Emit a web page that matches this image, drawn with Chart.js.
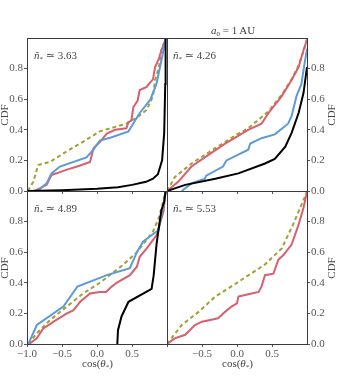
<!DOCTYPE html>
<html>
<head>
<meta charset="utf-8">
<script src="https://cdn.jsdelivr.net/npm/chart.js@4/dist/chart.umd.min.js"></script>
<style>
  body { margin: 0; background: #fff; }
  #wrap { position: relative; width: 343px; height: 383px; overflow: hidden; font-family: "Liberation Serif", "DejaVu Serif", serif; color: #444; }
  #wrap canvas { position: absolute; left: 0; top: 0; }
  .t { position: absolute; font-size: 11px; white-space: nowrap; line-height: 1; }
  .t sub { font-size: 7px; vertical-align: -2px; }
  .rot { transform: translate(-50%, -50%) rotate(-90deg); }
</style>
</head>
<body>
<div id="wrap">
  <canvas id="tl" width="343" height="383"></canvas>
  <canvas id="tr" width="343" height="383"></canvas>
  <canvas id="bl" width="343" height="383"></canvas>
  <canvas id="br" width="343" height="383"></canvas>

  <div class="t" style="left:211px;top:25px;"><i>a</i><sub>0</sub> = 1 AU</div>
  <div class="t" style="left:34px;top:50px;"><i>ñ</i><sub>*</sub> ≃ 3.63</div>
  <div class="t" style="left:173px;top:50px;"><i>ñ</i><sub>*</sub> ≃ 4.26</div>
  <div class="t" style="left:34px;top:203px;"><i>ñ</i><sub>*</sub> ≃ 4.89</div>
  <div class="t" style="left:173px;top:203px;"><i>ñ</i><sub>*</sub> ≃ 5.53</div>
  <div class="t rot" style="left:4px;top:115px;">CDF</div>
  <div class="t rot" style="left:4px;top:268px;">CDF</div>
  <div class="t rot" style="left:331px;top:115px;">CDF</div>
  <div class="t rot" style="left:331px;top:268px;">CDF</div>
  <div class="t" style="left:82px;top:358px;">cos(<i>θ</i><sub>*</sub>)</div>
  <div class="t" style="left:222px;top:358px;">cos(<i>θ</i><sub>*</sub>)</div>
</div>
<script>
// cos(theta) vs CDF
const tlRed = [[-0.89,0],[-0.72,0.04],[-0.65,0.105],[-0.55,0.12],[-0.43,0.14],[-0.25,0.165],[-0.1,0.19],[-0.05,0.28],[0.04,0.32],[0.14,0.375],[0.26,0.4],[0.42,0.41],[0.45,0.45],[0.49,0.46],[0.52,0.55],[0.58,0.59],[0.61,0.66],[0.71,0.68],[0.76,0.71],[0.8,0.73],[0.83,0.81],[0.88,0.86],[0.92,0.92],[0.96,0.965],[0.98,1.0]];
const tlBlue = [[-0.85,0],[-0.72,0.05],[-0.65,0.115],[-0.53,0.16],[-0.15,0.22],[-0.05,0.27],[0.04,0.33],[0.2,0.35],[0.45,0.39],[0.61,0.51],[0.76,0.595],[0.85,0.7],[0.9,0.81],[0.95,0.92],[0.98,1.0]];
const tlOlive = [[-0.99,0],[-0.91,0.06],[-0.84,0.17],[-0.67,0.19],[-0.43,0.26],[-0.24,0.31],[0.04,0.39],[0.42,0.44],[0.6,0.49],[0.71,0.53],[0.8,0.62],[0.83,0.725],[0.88,0.8],[0.92,0.92],[0.98,1.0]];
const tlBlack = [[-1,0],[-0.5,0.005],[0,0.015],[0.3,0.025],[0.5,0.04],[0.7,0.06],[0.8,0.08],[0.87,0.11],[0.93,0.2],[0.96,0.38],[0.975,0.7],[0.98,1.0]];

const trRed = [[-1,0],[-0.84,0.06],[-0.65,0.16],[-0.46,0.22],[-0.17,0.31],[0.16,0.4],[0.35,0.44],[0.45,0.51],[0.64,0.62],[0.78,0.725],[0.88,0.81],[0.95,0.92],[1.0,0.99]];
const trBlue = [[-0.79,0],[-0.65,0.05],[-0.46,0.08],[-0.44,0.1],[-0.2,0.16],[-0.15,0.2],[0.16,0.27],[0.19,0.31],[0.35,0.345],[0.54,0.37],[0.73,0.44],[0.78,0.49],[0.85,0.62],[0.92,0.7],[0.95,0.79],[1.0,0.93]];
const trOlive = [[-1,0],[-0.89,0.09],[-0.65,0.18],[-0.31,0.28],[0.0,0.37],[0.16,0.41],[0.45,0.52],[0.64,0.63],[0.78,0.73],[0.88,0.82],[0.97,0.94],[1.0,0.99]];
const trBlack = [[-1,0],[-0.74,0.04],[-0.31,0.08],[0.02,0.115],[0.4,0.18],[0.54,0.21],[0.69,0.29],[0.78,0.38],[0.88,0.51],[0.95,0.64],[1.0,0.81]];

const blRed = [[-0.97,0],[-0.86,0.037],[-0.77,0.1],[-0.62,0.146],[-0.43,0.2],[-0.34,0.22],[-0.24,0.276],[-0.1,0.33],[0.04,0.34],[0.13,0.34],[0.21,0.375],[0.28,0.4],[0.47,0.45],[0.57,0.505],[0.61,0.57],[0.71,0.625],[0.85,0.71],[0.95,0.865],[0.98,1.0]];
const blBlue = [[-0.98,0],[-0.86,0.124],[-0.48,0.245],[-0.28,0.375],[0.14,0.45],[0.47,0.495],[0.57,0.6],[0.66,0.67],[0.88,0.745],[0.95,0.91],[0.98,1.0]];
const blOlive = [[-0.98,0],[-0.86,0.07],[-0.67,0.157],[-0.43,0.245],[-0.2,0.33],[0.04,0.4],[0.38,0.52],[0.57,0.6],[0.8,0.735],[0.88,0.82],[0.95,0.94],[0.98,1.0]];
const blBlack = [[0.29,0],[0.3,0.09],[0.35,0.18],[0.45,0.276],[0.78,0.36],[0.81,0.45],[0.85,0.65],[0.88,0.75],[0.92,0.875],[0.96,0.93],[0.98,1.0]];

const brRed = [[-1,0],[-0.89,0.037],[-0.74,0.06],[-0.6,0.124],[-0.5,0.146],[-0.27,0.168],[-0.17,0.21],[-0.08,0.245],[0,0.265],[0.02,0.31],[0.21,0.33],[0.31,0.34],[0.35,0.375],[0.4,0.45],[0.52,0.46],[0.59,0.55],[0.66,0.58],[0.78,0.65],[0.88,0.78],[0.95,0.89],[1,0.995]];
const brOlive = [[-1,0],[-0.79,0.124],[-0.55,0.21],[-0.31,0.31],[0,0.4],[0.4,0.52],[0.64,0.625],[0.8,0.78],[1,0.995]];

const xTicks = [-1, -0.5, 0, 0.5];
const yTicks = [0, 0.2, 0.4, 0.6, 0.8];

const RED = "#d6606e";
const BLUE = "#5d9bd6";
const OLIVE = "#a3a032";
const BLACK = "#000";

const font = { family: "Liberation Serif", size: 11 };
const W = 343, H = 383;

const frame = {
  id: "frame",
  afterDatasetsDraw(chart) {
    const { ctx, chartArea: a } = chart;
    ctx.save();
    ctx.strokeStyle = "#3a3a3a";
    ctx.lineWidth = 1;
    ctx.strokeRect(Math.round(a.left) + 0.5, Math.round(a.top) + 0.5, Math.round(a.right - a.left), Math.round(a.bottom - a.top));
    ctx.restore();
  }
};

function line(pts, color, dashed) {
  return {
    data: pts.map(p => ({ x: p[0], y: p[1] })),
    borderColor: color,
    borderWidth: 2,
    borderDash: dashed ? [4, 3] : [],
    pointRadius: 0,
    tension: 0,
    fill: false
  };
}

function fmt(v) {
  return v.toFixed(1).replace("-", "\u2212");
}

// area = [left, top, right, bottom] of the plot box in page pixels
function panel(id, area, yPos, showX, hideFirstX, datasets) {
  const [L, T, R, B] = area;
  const yW = yPos === "left" ? L : W - R;   // y axis box fills the gap to the edge
  const xH = showX ? H - B : 0;
  const pad = {
    left: yPos === "left" ? 0 : L,
    right: yPos === "right" ? 0 : W - R,
    top: T,
    bottom: H - B - xH
  };
  new Chart(document.getElementById(id), {
    type: "line",
    data: { datasets: datasets },
    options: {
      responsive: false,
      animation: false,
      layout: { padding: pad },
      plugins: { legend: { display: false }, tooltip: { enabled: false } },
      scales: {
        x: {
          type: "linear",
          min: -1,
          max: 1,
          afterBuildTicks: s => { s.ticks = xTicks.map(v => ({ value: v })); },
          afterFit: s => { s.height = xH; },
          border: { display: false },
          grid: { drawOnChartArea: false, tickLength: 3, color: "#555" },
          ticks: {
            display: showX,
            autoSkip: false,
            color: "#555",
            font: font,
            padding: 1,
            maxRotation: 0,
            callback: v => (hideFirstX && v === -1 ? "" : fmt(v))
          }
        },
        y: {
          position: yPos,
          min: 0,
          max: 1,
          afterBuildTicks: s => { s.ticks = yTicks.map(v => ({ value: v })); },
          afterFit: s => { s.width = yW; },
          border: { display: false },
          grid: { drawOnChartArea: false, tickLength: 3, color: "#555" },
          ticks: { autoSkip: false, color: "#555", font: font, padding: 1, callback: v => fmt(v) }
        }
      }
    },
    plugins: [frame]
  });
}

panel("tl", [27, 38, 167, 191], "left", false, false,
  [line(tlBlack, BLACK), line(tlBlue, BLUE), line(tlRed, RED), line(tlOlive, OLIVE, true)]);
panel("tr", [167, 38, 307, 191], "right", false, false,
  [line(trBlack, BLACK), line(trBlue, BLUE), line(trRed, RED), line(trOlive, OLIVE, true)]);
panel("bl", [27, 191, 167, 344], "left", true, false,
  [line(blBlack, BLACK), line(blBlue, BLUE), line(blRed, RED), line(blOlive, OLIVE, true)]);
panel("br", [167, 191, 307, 344], "right", true, true,
  [line(brRed, RED), line(brOlive, OLIVE, true)]);
</script>
</body>
</html>
